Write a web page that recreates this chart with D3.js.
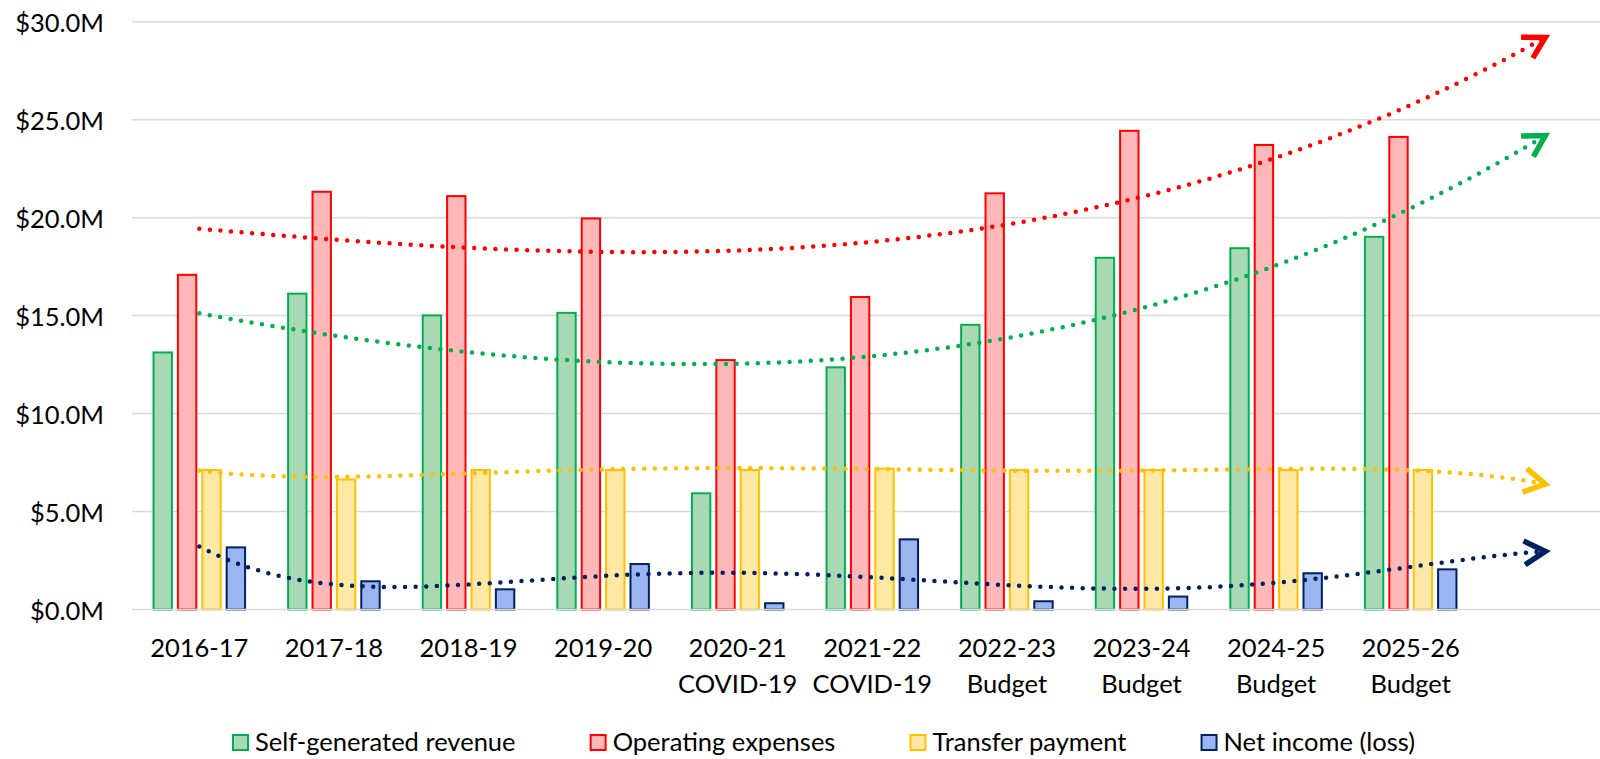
<!DOCTYPE html>
<html>
<head>
<meta charset="utf-8">
<script src="https://cdn.jsdelivr.net/npm/d3@7"></script>
<style>
  body { margin: 0; background: #fff; }
  svg { display: block; }
  text { font-family: Lato, "Open Sans", sans-serif; fill: #000; }
</style>
</head>
<body>
<svg id="chart" width="1600" height="759"></svg>
<script>
// ---------------- data (values in $ millions) ----------------
const categories = ["2016-17","2017-18","2018-19","2019-20","2020-21","2021-22","2022-23","2023-24","2024-25","2025-26"];
const categorySubLabels = ["","","","","COVID-19","COVID-19","Budget","Budget","Budget","Budget"];
const seriesNames = ["Self-generated revenue","Operating expenses","Transfer payment","Net income (loss)"];
const selfGenerated = [13.12, 16.12, 15.01, 15.14, 5.93, 12.36, 14.53, 17.95, 18.44, 19.02];
const operatingExpenses = [17.08, 21.32, 21.10, 19.96, 12.73, 15.95, 21.24, 24.43, 23.71, 24.12];
const transferPayment = [7.12, 6.64, 7.12, 7.12, 7.12, 7.19, 7.12, 7.12, 7.12, 7.12];
const netIncome = [3.17, 1.44, 1.03, 2.32, 0.32, 3.58, 0.42, 0.66, 1.85, 2.05];
const yTicks = [0, 5, 10, 15, 20, 25, 30];
const forecastPeriods = 1;          // trendline forecast forward (periods)
const trendOrders = [3, 3, 5, 5];   // polynomial trendline order per series

// ---------------- styles ----------------
const strokeColors = ["#00B050", "#FF0000", "#FFC000", "#002060"];
const fillColors = ["#A8D9B4", "#FFB8B8", "#FFE8A3", "#9BB5F0"];
const seriesData = [selfGenerated, operatingExpenses, transferPayment, netIncome];

const W = 1600, H = 759;
const plotLeft = 132, plotTop = 21.7, plotBottom = 609.5;
const svg = d3.select("#chart");

const nSlots = categories.length + forecastPeriods;
const step = 134.6;
const x = d3.scaleBand()
  .domain(d3.range(nSlots))
  .range([plotLeft, plotLeft + step * nSlots])
  .paddingInner(0.305)
  .paddingOuter(0.1525);
const xInner = d3.scaleBand()
  .domain(d3.range(seriesNames.length))
  .range([0, x.bandwidth()])
  .paddingInner(0.164);
const y = d3.scaleLinear().domain([0, 30]).range([plotBottom, plotTop]);

// gridlines
svg.append("g")
  .selectAll("line")
  .data(yTicks.filter(d => d !== 0))
  .join("line")
  .attr("x1", plotLeft).attr("x2", W)
  .attr("y1", d => y(d)).attr("y2", d => y(d))
  .attr("stroke", "#D9D9D9").attr("stroke-width", 1.5);

// y axis labels
const yAxis = d3.axisLeft(y).tickValues(yTicks).tickSize(0).tickPadding(0)
  .tickFormat(d => "$" + d.toFixed(1) + "M");
const yg = svg.append("g").attr("transform", `translate(104,0)`).call(yAxis);
yg.select(".domain").remove();
yg.selectAll("text").attr("font-size", 25.5).attr("font-family", "Lato, sans-serif").attr("fill", "#000")
  .attr("dy", "0.4em");

// bars
const groups = svg.append("g")
  .selectAll("g")
  .data(categories.map((c, i) => i))
  .join("g")
  .attr("transform", i => `translate(${x(i)},0)`);
groups.selectAll("rect")
  .data(i => seriesData.map((s, k) => ({ k, v: s[i] })))
  .join("rect")
  .attr("x", d => xInner(d.k) + 1)
  .attr("width", xInner.bandwidth() - 2)
  .attr("y", d => y(d.v))
  .attr("height", d => y(0) - y(d.v))
  .attr("fill", d => fillColors[d.k])
  .attr("stroke", d => strokeColors[d.k])
  .attr("stroke-width", 2);

// x axis line
svg.append("line")
  .attr("x1", plotLeft).attr("x2", W)
  .attr("y1", y(0)).attr("y2", y(0))
  .attr("stroke", "#D9D9D9").attr("stroke-width", 1.5);

// x axis labels
const xAxis = d3.axisBottom(x).tickValues(d3.range(categories.length)).tickSize(0).tickFormat("");
const xg = svg.append("g").attr("transform", `translate(0,${y(0)})`).call(xAxis);
xg.select(".domain").remove();
xg.selectAll(".tick").each(function (i) {
  const t = d3.select(this).append("text")
    .attr("text-anchor", "middle")
    .attr("font-size", 25.5)
    .attr("fill", "#000");
  t.append("tspan").attr("x", 0).attr("y", 657 - plotBottom).text(categories[i]);
  if (categorySubLabels[i]) t.append("tspan").attr("x", 0).attr("y", 693 - plotBottom).text(categorySubLabels[i]);
});

// ---------------- polynomial trendlines (least squares) ----------------
function polyFit(xs, ys, order) {
  const m = order + 1;
  const A = Array.from({ length: m }, () => new Array(m + 1).fill(0));
  for (let r = 0; r < m; r++) {
    for (let c = 0; c < m; c++) A[r][c] = d3.sum(xs, xv => Math.pow(xv, r + c));
    A[r][m] = d3.sum(xs, (xv, j) => Math.pow(xv, r) * ys[j]);
  }
  for (let p = 0; p < m; p++) {
    let best = p;
    for (let r = p + 1; r < m; r++) if (Math.abs(A[r][p]) > Math.abs(A[best][p])) best = r;
    [A[p], A[best]] = [A[best], A[p]];
    for (let r = 0; r < m; r++) {
      if (r === p) continue;
      const f = A[r][p] / A[p][p];
      for (let c = p; c <= m; c++) A[r][c] -= f * A[p][c];
    }
  }
  return A.map((row, r) => row[m] / row[r]);
}
const xIdx = categories.map((c, i) => i + 1);
const xTrend = d3.scaleLinear()
  .domain([1, nSlots])
  .range([x(0) + x.bandwidth() / 2, x(nSlots - 1) + x.bandwidth() / 2]);

const defs = svg.append("defs");
strokeColors.forEach((col, k) => {
  defs.append("marker")
    .attr("id", "arrow" + k)
    .attr("markerUnits", "userSpaceOnUse")
    .attr("orient", "auto")
    .attr("viewBox", "-30 -20 40 40")
    .attr("markerWidth", 40).attr("markerHeight", 40)
    .attr("refX", 0).attr("refY", 0)
    .append("path")
    .attr("d", "M-21,-12 L0,0 L-21,12")
    .attr("fill", "none")
    .attr("stroke", col)
    .attr("stroke-width", 5.5)
    .attr("stroke-linejoin", "miter");
});

const line = d3.line().x(d => xTrend(d[0])).y(d => y(d[1]));
seriesData.forEach((s, k) => {
  const coef = polyFit(xIdx, s, trendOrders[k]);
  const f = xv => coef.reduce((acc, c, p) => acc + c * Math.pow(xv, p), 0);
  const pts = d3.range(1, nSlots + 0.0001, 0.05).map(xv => [xv, f(xv)]);
  svg.append("path")
    .datum(pts)
    .attr("d", line)
    .attr("fill", "none")
    .attr("stroke", strokeColors[k])
    .attr("stroke-width", 4.5)
    .attr("stroke-linecap", "round")
    .attr("stroke-dasharray", "0 10.6")
    .attr("marker-end", `url(#arrow${k})`);
});

// ---------------- legend ----------------
const legend = svg.append("g");
const items = legend.selectAll("g").data(seriesNames).join("g");
items.append("rect")
  .attr("x", 1).attr("y", 735).attr("width", 15).attr("height", 15)
  .attr("fill", (d, k) => fillColors[k])
  .attr("stroke", (d, k) => strokeColors[k])
  .attr("stroke-width", 2);
items.append("text")
  .attr("x", 23).attr("y", 751)
  .attr("font-size", 25.5)
  .text(d => d);
const widths = [];
items.each(function () { widths.push(23 + d3.select(this).select("text").node().getComputedTextLength()); });
const legStart = 232, legEnd = 1415;
const gap = (legEnd - legStart - d3.sum(widths)) / (widths.length - 1);
let cx = legStart;
items.attr("transform", (d, k) => { const t = `translate(${cx},0)`; cx += widths[k] + gap; return t; });
</script>
</body>
</html>
